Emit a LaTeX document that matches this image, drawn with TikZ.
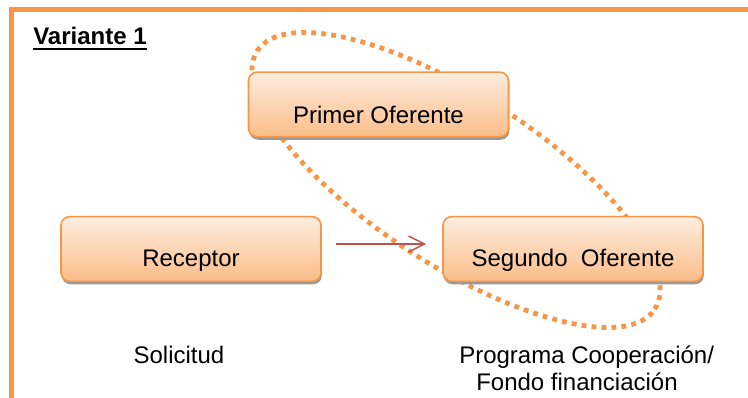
\documentclass[tikz,border=0pt]{standalone}
\usepackage{fontspec}
\setmainfont{Liberation Sans}
\usetikzlibrary{arrows.meta,shadows,positioning}

\definecolor{naranja}{HTML}{F79646}
\definecolor{cajaarriba}{HTML}{FEEDE0}
\definecolor{cajaabajo}{HTML}{FBBD88}
\definecolor{rojizo}{HTML}{C0504D}

\begin{document}
\begin{tikzpicture}[x=0.75pt,y=0.75pt,
    caja/.style={rectangle, rounded corners=6.5pt, draw=naranja, line width=1.2pt,
                 top color=cajaarriba, bottom color=cajaabajo,
                 minimum width=195pt, minimum height=48.5pt,
                 drop shadow={shadow xshift=0.6pt, shadow yshift=-2.2pt, fill=black!40, opacity=1}},
    texto/.style={inner sep=0pt, anchor=base, font=\fontsize{18}{20}\selectfont},
    punteado/.style={draw=naranja, line width=3.6pt, dash pattern=on 3.6pt off 3.9pt},
    flecha/.style={draw=rojizo, line width=1.1pt, -{Straight Barb[length=12pt,width=12pt]}}]
\useasboundingbox (0,0) rectangle (748,-398);

% marco
\draw[naranja, line width=3.75pt] (11,-398) -- (11,-10) -- (748,-10);
\node (titulo) [texto, anchor=base west] at (33,-45) {\textbf{Variante 1}};
\draw[line width=1.5pt] ([yshift=-3.2pt]titulo.base west) -- ([yshift=-3.2pt]titulo.base east);

% elipse punteada
\draw[punteado, rotate around={-33:(456,-180)}] (456,-180) ellipse [x radius=237, y radius=85];

\node (primer)   [caja] at (378.5,-104.5) {};
\node (receptor) [caja] at (191,-249) {};
\node (segundo)  [caja] at (573,-249) {};

\node (primertxt)   [texto] at (378.5,-124) {Primer Oferente};
\node (receptortxt) [texto] at (191,-267) {Receptor};
\node (segundotxt)  [texto] at (573,-267) {Segundo\ \ Oferente};

\draw[flecha] ([shift={(14,5)}]receptor.east) -- ([shift={(-16,5)}]segundo.west);

\node (solicitud) [texto] at (179,-363) {Solicitud};
\node (programa) [texto, anchor=base west] at (459,-363) {Programa Cooperación/};
\node (fondo)    [texto, anchor=base west] at (476,-390) {Fondo financiación};
\end{tikzpicture}
\end{document}
